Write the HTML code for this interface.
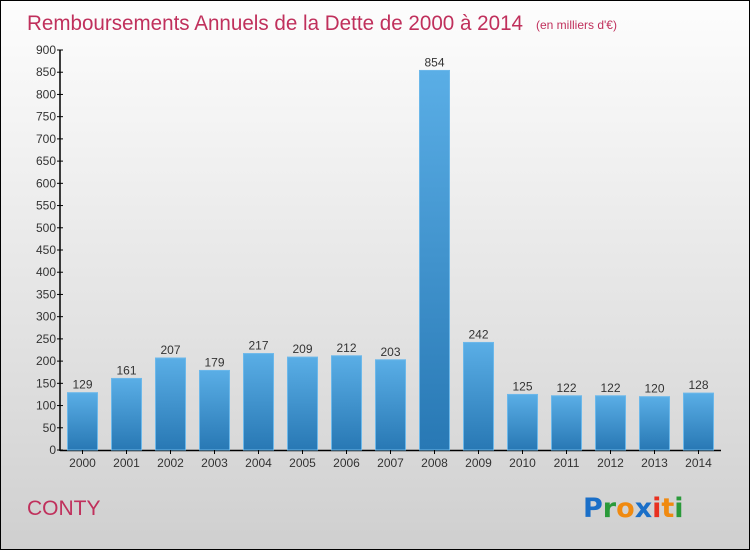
<!DOCTYPE html>
<html><head><meta charset="utf-8"><style>
body{margin:0}
#c{position:relative;width:748px;height:548px;border:1px solid #000;background:linear-gradient(#fdfdfd,#f0f0f0 30%,#d9d9d9 80%,#cfcfcf);font-family:"Liberation Sans",sans-serif;overflow:hidden}
</style></head><body>
<div id="c">
<svg id="s" width="748" height="548" style="position:absolute;left:0;top:0">
<defs><linearGradient id="g" x1="0" y1="0" x2="0" y2="1"><stop offset="0" stop-color="#5aaee6"/><stop offset="1" stop-color="#2878b4"/></linearGradient></defs>
<text x="26" y="29" font-size="21" fill="#c0305c" textLength="496" lengthAdjust="spacingAndGlyphs">Remboursements Annuels de la Dette de 2000 à 2014</text>
<text x="535" y="28" font-size="12" fill="#c0305c">(en milliers d'€)</text>
<text x="26" y="514" font-size="21" fill="#c0305c">CONTY</text>
<g font-size="27" font-weight="bold" font-family="'DejaVu Sans',sans-serif">
<text x="582" y="516"><tspan fill="#1a6fc8">P</tspan><tspan fill="#2a9a3a">r</tspan><tspan fill="#f08a10">o</tspan><tspan fill="#1a6fc8">x</tspan><tspan fill="#e83020">i</tspan><tspan fill="#f08a10">t</tspan><tspan fill="#2a9a3a">i</tspan></text>
</g>
<g id="plot"></g>
</svg>
</div>
<script>
const categories=["2000","2001","2002","2003","2004","2005","2006","2007","2008","2009","2010","2011","2012","2013","2014"];
const values=[129,161,207,179,217,209,212,203,854,242,125,122,122,120,128];
const yTicks=[0,50,100,150,200,250,300,350,400,450,500,550,600,650,700,750,800,850,900];
const y0=449,yTop=49,yMax=900,x0=59;
const y=v=>y0-(y0-yTop)*v/yMax;
const xc=i=>81.5+44*i;
const g=document.getElementById('plot');
const NS='http://www.w3.org/2000/svg';
function mk(t,a){const e=document.createElementNS(NS,t);for(const k in a)e.setAttribute(k,a[k]);g.appendChild(e);return e;}
let ax=mk('line',{x1:x0,y1:yTop,x2:x0,y2:y0+1,stroke:'#000','stroke-width':1.5});


let bx=mk('line',{x1:x0,y1:y0+0.5,x2:720,y2:y0+0.5,stroke:'#000','stroke-width':1.5});


yTicks.forEach(t=>{
 const l=mk('line',{x1:x0-3,x2:x0+3,y1:y(t),y2:y(t),stroke:'#000'});
 
 
 const tx=mk('text',{x:x0-4,y:y(t)+4,'font-size':12,fill:'#333','text-anchor':'end'});
 tx.textContent=t;
 
 
});
categories.forEach((c,i)=>{
 const v=values[i];
 const r=mk('rect',{x:xc(i)-15,y:y(v),width:30,height:y0-y(v),fill:'url(#g)',stroke:'#6cb8ea','stroke-width':1});
 
 
 const l=mk('text',{x:xc(i),y:y(v)-4,'font-size':12,fill:'#333','text-anchor':'middle'});
 l.textContent=v;
 
 
 const tk=mk('line',{x1:xc(i),x2:xc(i),y1:y0,y2:y0+4,stroke:'#000'});
 
 
 const xl=mk('text',{x:xc(i),y:y0+17,'font-size':12,fill:'#333','text-anchor':'middle'});
 xl.textContent=c;
 
 
});
</script>
</body></html>
